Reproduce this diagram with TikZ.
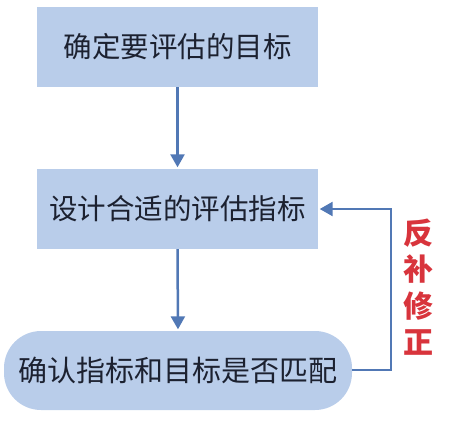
\documentclass[tikz,border=0pt]{standalone}
\usepackage{fontspec}
\setmainfont{Noto Sans CJK SC}
\usetikzlibrary{arrows.meta}
\definecolor{boxfill}{HTML}{B9CDEA}
\definecolor{arrowblue}{HTML}{5178B5}
\definecolor{labelred}{HTML}{D8343C}
\definecolor{textdark}{HTML}{1C2130}
\begin{document}
\begin{tikzpicture}[x=1pt,y=-1pt,
  stepbox/.style={fill=boxfill, draw=none, minimum width=281pt, minimum height=80pt, inner sep=0pt, text=textdark, font=\fontsize{28.5}{30}\selectfont},
  roundbox/.style={fill=boxfill, draw=none, rounded corners=37pt, minimum width=348pt, minimum height=79pt, inner sep=0pt, text=textdark, font=\fontsize{29}{31}\selectfont},
  flow/.style={draw=arrowblue, line width=2.5pt, shorten >=1.5pt, -{Triangle[width=14pt,length=13pt]}}
]
\useasboundingbox (0,0) rectangle (449,421);
\node[stepbox] (goal) at (177.5,47) {确定要评估的目标};
\node[stepbox] (design) at (177.5,209) {设计合适的评估指标};
\node[roundbox] (check) at (178,370.5) {确认指标和目标是否匹配};
\coordinate (c1) at (391,370);
\coordinate (c2) at (391,209);
\draw[flow] (goal.south) -- (design.north);
\draw[flow] (design.south) -- (check.north);
\draw[flow] (check.east |- c1) -- (c1) -- (c2) -- (design.east);
\node[text=labelred, font=\bfseries\fontsize{30}{36.5}\selectfont, align=center, inner sep=0pt] (fb) at (418,287) {反\\补\\修\\正};
\end{tikzpicture}
\end{document}
